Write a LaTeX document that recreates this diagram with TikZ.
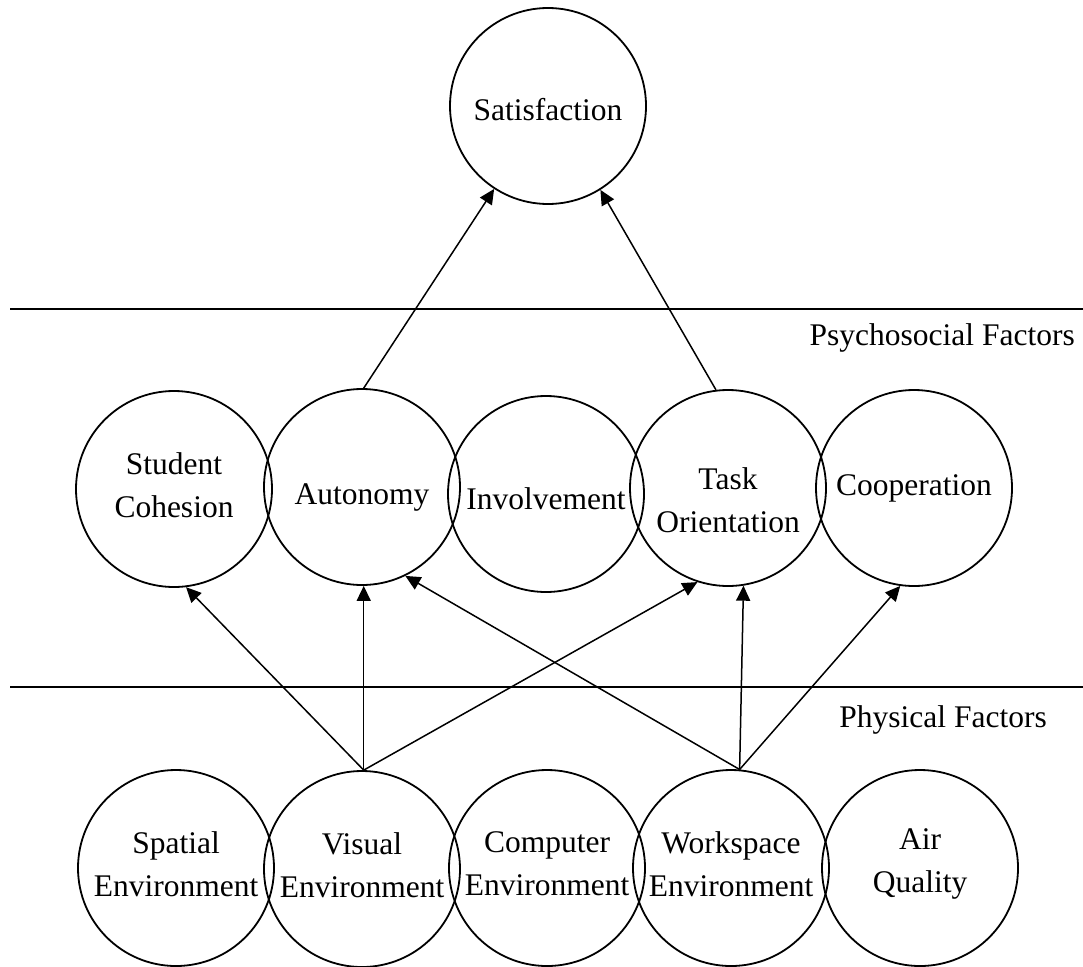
\documentclass[tikz,border=0pt]{standalone}
\usepackage{fontspec}
\setmainfont{Liberation Serif}
\usetikzlibrary{arrows.meta}
\begin{document}
\begin{tikzpicture}[x=1pt,y=-1pt,
  fac/.style={circle,draw,line width=1.8pt,minimum size=196pt,inner sep=0pt},
  ftxt/.style={font=\fontsize{31.5}{43}\selectfont,align=center,inner sep=0pt},
  link/.style={line width=1.5pt,-{Triangle[length=15pt,width=14pt]}},
  rule/.style={line width=1.7pt}]
\useasboundingbox (0,0) rectangle (1083,966);

% outcome
\node[fac,label={[ftxt,yshift=-4]center:Satisfaction}] (sat) at (548,106) {};

% layer separators
\coordinate (r1a) at (10,309);  \coordinate (r1b) at (1083,309);
\coordinate (r2a) at (10,687);  \coordinate (r2b) at (1083,687);
\draw[rule] (r1a) -- (r1b);
\draw[rule] (r2a) -- (r2b);
\node[ftxt,anchor=base east] (psy) at (1075,345) {Psychosocial Factors};
\node[ftxt,anchor=base east] (phy) at (1047,727) {Physical Factors};

% psychosocial factors
\node[fac,label={[ftxt,yshift=4]center:Student\\Cohesion}] (sc) at (174,489) {};
\node[fac,label={[ftxt,yshift=-10]center:Autonomy}] (aut) at (362,487) {};
\node[fac,label={[ftxt,yshift=-5]center:Involvement}] (inv) at (546,494) {};
\node[fac,label={[ftxt,yshift=-12]center:Task\\Orientation}] (task) at (728,488) {};
\node[fac,label={[ftxt]center:Cooperation}] (coop) at (914,488) {};

% physical factors
\node[fac,label={[ftxt,yshift=4]center:Spatial\\Environment}] (spa) at (176,868) {};
\node[fac,label={[ftxt,yshift=4]center:Visual\\Environment}] (vis) at (362,869) {};
\node[fac,label={[ftxt,yshift=4]center:Computer\\Environment}] (com) at (547,868) {};
\node[fac,label={[ftxt,yshift=4]center:Workspace\\Environment}] (wsp) at (731,868) {};
\node[fac,label={[ftxt,yshift=4]center:Air\\Quality}] (air) at (920,868) {};

% paths to satisfaction
\draw[link] (aut.89) -- (sat.-123);
\draw[link] (task.97) -- (sat.-58);

% paths from physical to psychosocial factors
\draw[link] (vis.89) -- (sc.-83);
\draw[link] (vis.89) -- (aut.-89);
\draw[link] (vis.89) -- (task.-108);
\draw[link] (wsp.85) -- (aut.-64);
\draw[link] (wsp.85) -- (task.-81);
\draw[link] (wsp.85) -- (coop.-98);
\end{tikzpicture}
\end{document}
